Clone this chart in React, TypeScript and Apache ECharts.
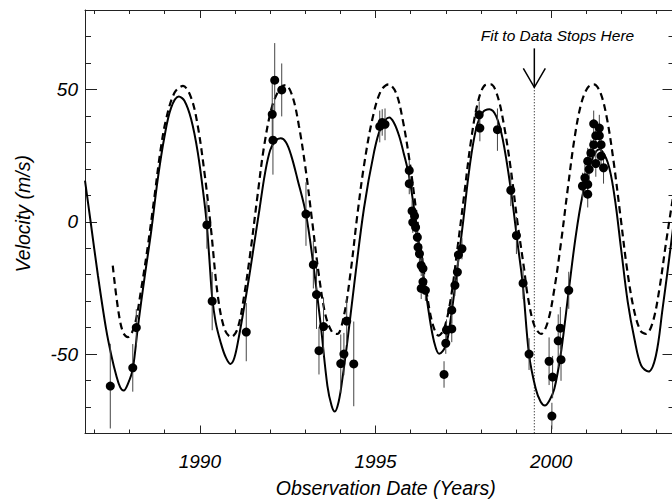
import React, { useEffect, useRef } from 'react';
import * as echarts from 'echarts';

// ---------- data ----------
// Solid curve: fit to the data
const fitYears = [
  1986.73, 1986.89, 1987.10, 1987.33, 1987.48, 1987.62, 1987.73, 1987.83, 1987.96, 1988.09,
  1988.24, 1988.42, 1988.61, 1988.80, 1988.99, 1989.18, 1989.40, 1989.56, 1989.75, 1989.94,
  1990.13, 1990.20, 1990.27, 1990.35, 1990.45, 1990.59, 1990.73, 1990.87, 1990.98, 1991.11,
  1991.25, 1991.40, 1991.55, 1991.70, 1991.85, 1992.00, 1992.15, 1992.30, 1992.45, 1992.60,
  1992.78, 1993.02, 1993.23, 1993.44, 1993.63, 1993.75, 1993.84, 1993.95, 1994.06, 1994.20,
  1994.39, 1994.67, 1994.96, 1995.15, 1995.39, 1995.52, 1995.67, 1995.80, 1995.96, 1996.15,
  1996.34, 1996.53, 1996.67, 1996.81, 1997.00, 1997.14, 1997.29, 1997.48, 1997.67, 1997.86,
  1998.05, 1998.24, 1998.43, 1998.62, 1998.85, 1999.04, 1999.19, 1999.37, 1999.56, 1999.70,
  1999.82, 1999.95, 2000.09, 2000.28, 2000.50, 2000.70, 2000.89, 2001.13, 2001.37, 2001.61,
  2001.80, 2001.99, 2002.18, 2002.37, 2002.56, 2002.77, 2002.98, 2003.17, 2003.32, 2003.51,
];
const fitVel = [
  15.5, 0.0, -20.5, -40.5, -50.5, -58.1, -62.5, -63.8, -61.0, -55.6,
  -39.2, -21.6, -4.0, 16.0, 32.0, 43.0, 47.3, 45.7, 38.8, 26.2,
  7.3, -1.5, -14.0, -28.5, -38.0, -45.5, -51.0, -53.7, -51.5, -43.5,
  -33.0, -21.0, -8.0, 5.0, 18.0, 27.0, 30.5, 31.5, 30.0, 25.0,
  16.0, 2.9, -16.3, -39.0, -62.0, -69.5, -71.7, -68.0, -59.0, -45.0,
  -24.0, 5.0, 26.5, 35.5, 39.4, 37.5, 32.5, 26.0, 16.9, -0.2,
  -17.9, -35.5, -45.5, -49.9, -46.8, -36.7, -21.6, -1.5, 19.9, 35.0,
  41.3, 42.5, 40.0, 31.2, 12.3, -7.8, -23.5, -50.2, -63.1, -68.0,
  -69.4, -67.5, -63.1, -49.3, -26.0, -5.3, 9.8, 22.4, 27.4, 22.4,
  9.8, -10.3, -30.4, -44.3, -54.3, -56.6, -50.6, -32.9, -17.9, 2.0,
];

// Dashed curve
const altYears = [
  1987.52, 1987.67, 1987.81, 1987.95, 1988.14, 1988.33, 1988.52, 1988.71, 1988.88, 1989.04,
  1989.28, 1989.52, 1989.75, 1989.94, 1990.13, 1990.31, 1990.51, 1990.70, 1990.89, 1991.07,
  1991.26, 1991.45, 1991.64, 1991.83, 1992.06, 1992.30, 1992.44, 1992.63, 1992.82, 1993.01,
  1993.20, 1993.39, 1993.58, 1993.77, 1993.91, 1994.10, 1994.29, 1994.48, 1994.67, 1994.91,
  1995.15, 1995.37, 1995.58, 1995.77, 1995.96, 1996.15, 1996.34, 1996.53, 1996.67, 1996.79,
  1996.95, 1997.14, 1997.33, 1997.52, 1997.71, 1997.90, 1998.09, 1998.28, 1998.47, 1998.66,
  1998.85, 1999.04, 1999.23, 1999.33, 1999.52, 1999.71, 1999.90, 2000.09, 2000.28, 2000.47,
  2000.66, 2000.85, 2001.04, 2001.21, 2001.40, 2001.59, 2001.78, 2001.97, 2002.16, 2002.35,
  2002.54, 2002.70, 2002.89, 2003.08, 2003.27, 2003.51,
];
const altVel = [
  -16.6, -32.9, -41.7, -43.6, -39.2, -25.4, -9.0, 9.8, 27.0, 38.8,
  48.8, 51.3, 46.9, 36.2, 18.6, -2.0, -27.9, -40.5, -43.6, -40.5,
  -27.9, -10.3, 9.8, 28.7, 43.8, 50.7, 51.6, 47.6, 36.2, 19.9,
  -0.2, -20.4, -35.5, -41.8, -42.4, -35.5, -19.1, 2.3, 21.1, 38.8,
  49.4, 51.9, 48.8, 38.8, 23.7, 4.8, -15.3, -32.9, -40.5, -43.0,
  -40.5, -29.2, -10.3, 9.8, 29.9, 44.4, 51.3, 51.9, 47.6, 36.2,
  19.9, -0.2, -17.9, -27.9, -39.2, -42.4, -38.0, -25.4, -7.8, 12.3,
  31.2, 44.4, 50.7, 51.9, 48.8, 38.8, 22.4, 2.3, -17.9, -32.9,
  -41.1, -42.4, -38.0, -25.4, -7.8, 13.0,
];

// Observations: date, velocity, error
const obsYears = [
  1987.45, 1988.09, 1988.19, 1990.20, 1990.35, 1991.32, 1992.06, 1992.08, 1992.13, 1992.33,
  1993.02, 1993.23, 1993.32, 1993.39, 1993.52, 1994.01, 1994.10, 1994.18, 1994.38, 1995.12,
  1995.19, 1995.27, 1995.96, 1995.96, 1996.04, 1996.06, 1996.11, 1996.14, 1996.19, 1996.21,
  1996.25, 1996.30, 1996.35, 1996.35, 1996.30, 1996.42, 1996.95, 1997.00, 1997.02, 1997.17,
  1997.17, 1997.26, 1997.33, 1997.36, 1997.46, 1997.95, 1997.97, 1998.47, 1998.85, 1999.01,
  1999.20, 1999.37, 1999.94, 2000.02, 2000.04, 2000.20, 2000.26, 2000.28, 2000.50, 2000.89,
  2000.96, 2001.04, 2001.04, 2001.04, 2001.08, 2001.13, 2001.21, 2001.21, 2001.27, 2001.27,
  2001.37, 2001.37, 2001.42, 2001.42, 2001.49,
];
const obsVel = [
  -62.1, -55.2, -40.0, -1.2, -30.0, -41.7, 40.6, 30.8, 53.5, 49.8,
  2.9, -16.2, -27.5, -48.7, -39.6, -53.6, -50.0, -37.5, -53.7, 36.0,
  37.5, 36.8, 19.4, 14.4, 4.1, -0.2, 2.2, -2.1, -5.9, -9.6,
  -12.1, -16.5, -17.7, -22.7, -25.2, -25.9, -57.7, -45.9, -40.9, -40.5,
  -33.4, -24.0, -19.0, -12.5, -10.2, 40.4, 35.4, 34.8, 11.9, -5.2,
  -23.2, -50.0, -52.7, -73.4, -58.7, -45.0, -40.2, -52.1, -25.9, 13.5,
  16.6, 10.4, 14.1, 22.9, 19.8, 26.0, 37.0, 29.1, 32.5, 22.0,
  35.4, 32.5, 29.1, 24.8, 20.4,
];
const obsErr = [
  16, 9, 7, 9, 11, 11, 12, 13, 14, 10,
  12, 9, 13, 9, 11, 11, 8, 9, 16, 6,
  5, 6, 4, 4, 4, 4, 4, 4, 4, 4,
  4, 4, 4, 4, 4, 4, 5, 4, 4, 5,
  5, 4, 4, 4, 4, 5, 5, 8, 6, 7,
  6, 6, 9, 5, 8, 10, 8, 8, 7, 5,
  5, 5, 5, 5, 5, 5, 5, 5, 5, 5,
  5, 5, 5, 5, 6,
];

const xMin = 1986.73;
const xMax = 2003.51;
const yMin = -80;
const yMax = 80;
const xTickLabels = [1990, 1995, 2000];
const yTickLabels = [-50, 0, 50];
const xTitle = 'Observation Date (Years)';
const yTitle = 'Velocity (m/s)';

const fitStopYear = 1999.52;
const arrowTipVel = 50.8;
const arrowTailVel = 65.5;
const annotationText = 'Fit to Data Stops Here';
const annotationYear = 2000.18;
const annotationVel = 70.5;

const FONT = '"Liberation Sans", Arial, Helvetica, sans-serif';

export default function App() {
  const ref = useRef<HTMLDivElement>(null);

  useEffect(() => {
    if (!ref.current) return;
    const chart = echarts.init(ref.current, undefined, { renderer: 'svg' });

    const zip2 = (a: number[], b: number[]) => a.map((v, i) => [v, b[i]]);
    const obsData = obsYears.map((v, i) => [v, obsVel[i], obsErr[i]]);

    const labelStyle = {
      fontFamily: FONT,
      fontStyle: 'italic' as const,
      fontSize: 19,
      color: '#000',
    };
    const spine = { show: true, onZero: false, lineStyle: { color: '#222', width: 1 } };
    const noSpine = { show: false, onZero: false };
    const tick = (len: number) => ({ show: true, inside: true, length: len, lineStyle: { color: '#222', width: 1 } });

    const isIn = (v: number, arr: number[]) => arr.some((t) => Math.abs(t - v) < 1e-6);

    const xCommon = { type: 'value' as const, gridIndex: 0, min: xMin, max: xMax, splitLine: { show: false } };
    const yCommon = { type: 'value' as const, gridIndex: 0, min: yMin, max: yMax, splitLine: { show: false } };

    chart.setOption({
      animation: false,
      backgroundColor: '#fff',
      grid: {
        left: 85,
        top: 10,
        width: 589.5,
        height: 423.5,
        containLabel: false,
        outerBoundsMode: 'none',
      },
      xAxis: [
        {
          ...xCommon,
          position: 'bottom',
          minInterval: 5,
          maxInterval: 5,
          axisLine: spine,
          axisTick: tick(8),
          axisLabel: {
            ...labelStyle,
            margin: 18,
            showMinLabel: false,
            showMaxLabel: false,
            formatter: (v: number) => (isIn(v, xTickLabels) ? String(Math.round(v)) : ''),
          },
          name: xTitle,
          nameLocation: 'middle',
          nameGap: 44,
          nameTextStyle: { ...labelStyle, fontSize: 19.5, padding: [0, 0, 0, 12] },
        },
        {
          ...xCommon,
          position: 'bottom',
          minInterval: 1,
          maxInterval: 1,
          axisLine: noSpine,
          axisTick: tick(4),
          axisLabel: { show: false },
        },
        {
          ...xCommon,
          position: 'top',
          minInterval: 5,
          maxInterval: 5,
          axisLine: spine,
          axisTick: tick(8),
          axisLabel: { show: false },
        },
        {
          ...xCommon,
          position: 'top',
          minInterval: 1,
          maxInterval: 1,
          axisLine: noSpine,
          axisTick: tick(4),
          axisLabel: { show: false },
        },
      ],
      yAxis: [
        {
          ...yCommon,
          position: 'left',
          minInterval: 50,
          maxInterval: 50,
          axisLine: spine,
          axisTick: tick(12),
          axisLabel: {
            ...labelStyle,
            margin: 7,
            showMinLabel: false,
            showMaxLabel: false,
            formatter: (v: number) => (isIn(v, yTickLabels) ? String(Math.round(v)) : ''),
          },
          name: yTitle,
          nameLocation: 'middle',
          nameGap: 52,
          nameTextStyle: { ...labelStyle, fontSize: 19.5, padding: [0, 0, 0, 16] },
        },
        {
          ...yCommon,
          position: 'left',
          minInterval: 10,
          maxInterval: 10,
          axisLine: noSpine,
          axisTick: tick(6),
          axisLabel: { show: false },
        },
        {
          ...yCommon,
          position: 'right',
          minInterval: 50,
          maxInterval: 50,
          axisLine: spine,
          axisTick: tick(12),
          axisLabel: { show: false },
        },
        {
          ...yCommon,
          position: 'right',
          minInterval: 10,
          maxInterval: 10,
          axisLine: noSpine,
          axisTick: tick(6),
          axisLabel: { show: false },
        },
      ],
      series: [
        {
          name: 'Fit',
          type: 'line',
          xAxisIndex: 0,
          yAxisIndex: 0,
          data: zip2(fitYears, fitVel),
          smooth: 0.35,
          showSymbol: false,
          symbol: 'none',
          clip: true,
          lineStyle: { color: '#000', width: 2 },
          z: 3,
        },
        {
          name: 'Alternative',
          type: 'line',
          xAxisIndex: 0,
          yAxisIndex: 0,
          data: zip2(altYears, altVel),
          smooth: 0.35,
          showSymbol: false,
          symbol: 'none',
          clip: true,
          lineStyle: { color: '#000', width: 2.2, type: [7, 4.5] },
          z: 3,
        },
        {
          name: 'Errors',
          type: 'custom',
          xAxisIndex: 0,
          yAxisIndex: 0,
          data: obsData,
          encode: { x: 0, y: 1 },
          clip: true,
          z: 4,
          renderItem: (_params: any, api: any) => {
            const x = api.value(0);
            const y = api.value(1);
            const e = api.value(2);
            const top = api.coord([x, y + e]);
            const bot = api.coord([x, y - e]);
            return {
              type: 'line',
              shape: { x1: top[0], y1: top[1], x2: bot[0], y2: bot[1] },
              style: { stroke: '#444', lineWidth: 1 },
            };
          },
        },
        {
          name: 'Observations',
          type: 'scatter',
          xAxisIndex: 0,
          yAxisIndex: 0,
          data: obsData.map((d) => [d[0], d[1]]),
          symbol: 'circle',
          symbolSize: 9,
          itemStyle: { color: '#000', opacity: 1 },
          z: 5,
        },
        {
          name: 'Annotation',
          type: 'custom',
          xAxisIndex: 0,
          yAxisIndex: 0,
          data: [[fitStopYear, arrowTipVel]],
          encode: { x: 0, y: 1 },
          clip: false,
          z: 6,
          renderItem: (_params: any, api: any) => {
            const tip = api.coord([fitStopYear, arrowTipVel]);
            const tail = api.coord([fitStopYear, arrowTailVel]);
            const bottom = api.coord([fitStopYear, yMin]);
            const lab = api.coord([annotationYear, annotationVel]);
            return {
              type: 'group',
              children: [
                {
                  type: 'line',
                  shape: { x1: tip[0], y1: tip[1], x2: bottom[0], y2: bottom[1] },
                  style: { stroke: '#000', lineWidth: 1, lineDash: [1, 2] },
                },
                {
                  type: 'line',
                  shape: { x1: tail[0], y1: tail[1], x2: tip[0], y2: tip[1] },
                  style: { stroke: '#000', lineWidth: 1.5 },
                },
                {
                  type: 'polyline',
                  shape: {
                    points: [
                      [tip[0] - 11, tip[1] - 19],
                      [tip[0], tip[1]],
                      [tip[0] + 11, tip[1] - 19],
                    ],
                  },
                  style: { stroke: '#000', fill: 'none', lineWidth: 1.5 },
                },
                {
                  type: 'text',
                  x: lab[0],
                  y: lab[1],
                  style: {
                    text: annotationText,
                    fontFamily: FONT,
                    fontStyle: 'italic',
                    fontSize: 15.5,
                    fill: '#000',
                    align: 'center',
                    verticalAlign: 'middle',
                  },
                },
              ],
            };
          },
        },
      ],
    });

    return () => chart.dispose();
  }, []);

  return (
    <div
      ref={ref}
      style={{ position: 'fixed', left: 0, top: 0, width: 672, height: 501, background: '#fff' }}
    />
  );
}
